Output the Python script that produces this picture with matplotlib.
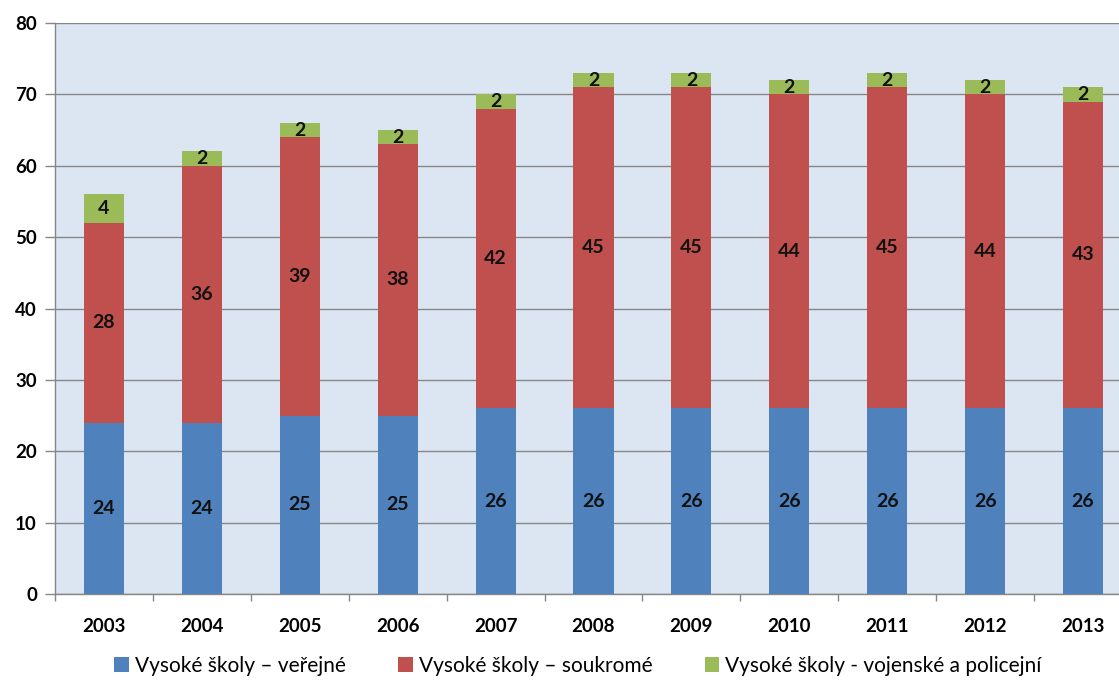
import matplotlib
matplotlib.use("Agg")
import matplotlib.pyplot as plt
import numpy as np
from matplotlib.patches import Patch

years = ["2003", "2004", "2005", "2006", "2007", "2008", "2009", "2010", "2011", "2012", "2013"]
verejne = [24, 24, 25, 25, 26, 26, 26, 26, 26, 26, 26]
soukrome = [28, 36, 39, 38, 42, 45, 45, 44, 45, 44, 43]
vojenske = [4, 2, 2, 2, 2, 2, 2, 2, 2, 2, 2]
series_names = ["Vysoké školy – veřejné", "Vysoké školy – soukromé", "Vysoké školy - vojenské a policejní"]
yticks = [0, 10, 20, 30, 40, 50, 60, 70, 80]

plt.rcParams['font.family'] = ['Lato', 'DejaVu Sans']
colors = ["#4f81bd", "#c0504d", "#9bbb59"]

W, H = 1119, 684
fig = plt.figure(figsize=(W / 100, H / 100), dpi=100)
left_px, right_px, top_px, bot_px = 55, 1132, 23, 594
ax = fig.add_axes([left_px / W, (H - bot_px) / H, (right_px - left_px) / W, (bot_px - top_px) / H])
ax.set_facecolor("#dce6f2")

x = np.arange(len(years))
bw = 0.41
b1 = np.array(verejne)
b2 = np.array(soukrome)
b3 = np.array(vojenske)
ax.bar(x, b1, bw, color=colors[0], zorder=3)
ax.bar(x, b2, bw, bottom=b1, color=colors[1], zorder=3)
ax.bar(x, b3, bw, bottom=b1 + b2, color=colors[2], zorder=3)

lab_kw = dict(ha="center", va="center", fontsize=14, fontweight="bold", color="#111111", zorder=4)
for i in range(len(years)):
    ax.text(x[i], b1[i] / 2, str(b1[i]), **lab_kw)
    ax.text(x[i], b1[i] + b2[i] / 2, str(b2[i]), **lab_kw)
    ax.text(x[i], b1[i] + b2[i] + b3[i] / 2, str(b3[i]), **lab_kw)

ax.set_xlim(-0.5, len(years) - 0.5)
ax.set_ylim(0, 80)
ax.set_yticks(yticks)
ax.set_yticklabels([str(v) for v in yticks], fontsize=13.5, fontweight="bold")
ax.set_xticks(x)
ax.set_xticklabels(years, fontsize=13.5, fontweight="bold")
ax.set_xticks(np.arange(len(years) + 1) - 0.5, minor=True)
ax.tick_params(axis="x", which="major", length=0, pad=17)
ax.tick_params(axis="x", which="minor", length=5, color="#868686", width=1)
ax.tick_params(axis="y", which="major", length=7, color="#868686", width=1, pad=6)
ax.yaxis.grid(True, color="#868686", linewidth=1, zorder=1)
ax.set_axisbelow(True)
for s in ["top", "right"]:
    ax.spines[s].set_visible(False)
for s in ["left", "bottom"]:
    ax.spines[s].set_color("#868686")
    ax.spines[s].set_linewidth(1)

handles = [Patch(facecolor=c, edgecolor="none") for c in colors]
fig.legend(handles, series_names, loc="center", bbox_to_anchor=(578 / W, 1 - 666 / H),
           ncol=3, frameon=False, fontsize=15, handlelength=0.7, handleheight=0.7,
           handletextpad=0.3, columnspacing=2.5)

fig.savefig("out.png", dpi=100)
